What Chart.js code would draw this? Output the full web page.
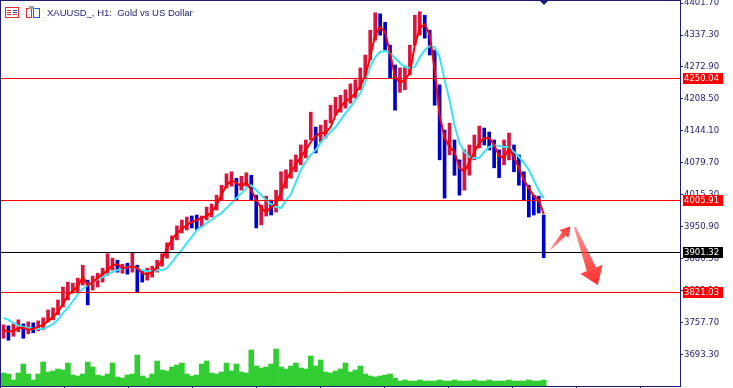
<!DOCTYPE html>
<html lang="en">
<head>
  <meta charset="UTF-8" />
  <title>XAUUSD_, H1: Gold vs US Dollar</title>
  <script src="https://cdn.jsdelivr.net/npm/chart.js@4"></script>
  <style>
    html, body {
      margin: 0;
      padding: 0;
      background: #ffffff;
      overflow: hidden;
    }
    canvas {
      display: block;
    }
  </style>
</head>
<body>
  <canvas id="goldChart" width="733" height="388"></canvas>

  <script>
    const navy = "#1c1c74";
    const upColor = "#dc143c";
    const downColor = "#0000cd";

    // H1 bars, oldest first (price range per hour + close)
    const highs = [3754,3752,3756,3764,3756,3760,3758,3762,3768,3784,
      3788,3804,3830,3840,3838,3848,3874,3844,3852,3858,
      3868,3897,3888,3884,3876,3878,3899,3874,3864,3868,
      3872,3884,3897,3919,3933,3953,3965,3971,3973,3975,
      3973,3991,3997,4015,4035,4058,4062,4049,4053,4060,
      4055,4015,3995,4013,4005,4025,4062,4066,4086,4096,
      4116,4126,4182,4152,4156,4166,4196,4212,4216,4227,
      4239,4247,4271,4297,4347,4382,4380,4363,4317,4277,
      4271,4275,4317,4377,4384,4377,4347,4307,4237,4146,
      4160,4126,4086,4106,4116,4136,4154,4150,4142,4126,
      4106,4126,4140,4116,4096,4062,4035,4015,4013,3975];
    const lows = [3727,3723,3731,3740,3727,3736,3738,3742,3744,3760,
      3764,3774,3790,3804,3818,3820,3834,3794,3824,3830,
      3840,3854,3864,3860,3858,3856,3860,3820,3840,3844,
      3850,3860,3872,3888,3905,3925,3939,3945,3949,3945,
      3951,3965,3971,3985,4005,4029,4033,4005,4025,4033,
      4005,3949,3955,3973,3975,3981,4005,4029,4049,4062,
      4076,4090,4126,4100,4122,4130,4160,4176,4182,4190,
      4200,4210,4227,4251,4287,4327,4337,4307,4251,4186,
      4222,4227,4257,4317,4337,4331,4297,4196,4086,4009,
      4096,4055,4015,4025,4055,4086,4110,4116,4106,4070,
      4050,4076,4086,4062,4035,4005,3971,3975,3979,3889];
    const closes = [3740,3734,3748,3754,3736,3748,3744,3754,3760,3774,
      3780,3794,3820,3824,3830,3838,3850,3814,3838,3848,
      3860,3874,3880,3868,3868,3866,3880,3852,3850,3856,
      3862,3874,3888,3909,3925,3941,3953,3963,3961,3955,
      3965,3979,3985,4005,4025,4045,4049,4025,4041,4051,
      4015,3975,3981,3995,3989,4009,4035,4053,4070,4082,
      4102,4112,4150,4116,4142,4154,4182,4200,4206,4214,
      4227,4237,4257,4283,4331,4367,4357,4327,4267,4231,
      4247,4257,4297,4357,4367,4347,4311,4216,4126,4106,
      4136,4076,4049,4076,4096,4116,4136,4130,4126,4086,
      4076,4106,4106,4086,4049,4025,4005,3995,3985,3905];

    // moving averages as drawn on the chart (red = fast, aqua = slow)
    const maFast = [3744,3740,3742,3748,3748,3744,3746,3750,3754,3762,
      3770,3780,3796,3814,3822,3832,3850,3834,3840,3848,
      3856,3864,3874,3876,3868,3870,3872,3868,3858,3856,
      3860,3870,3884,3909,3925,3939,3947,3955,3961,3965,
      3969,3973,3981,3995,4017,4035,4045,4039,4033,4041,
      4025,4005,3989,3981,3991,3997,4021,4045,4062,4076,
      4092,4106,4122,4134,4140,4140,4152,4176,4192,4204,
      4210,4220,4235,4255,4293,4337,4353,4343,4301,4253,
      4241,4247,4261,4317,4351,4359,4337,4267,4176,4130,
      4112,4102,4070,4062,4082,4102,4120,4130,4130,4116,
      4094,4090,4110,4092,4070,4045,4029,4013,4005,3977];
    const maSlow = [3768,3764,3758,3752,3750,3748,3746,3746,3746,3750,
      3756,3764,3778,3788,3802,3816,3826,3834,3840,3846,
      3850,3856,3860,3864,3868,3870,3872,3868,3864,3862,
      3862,3864,3864,3868,3880,3894,3905,3919,3931,3945,
      3951,3959,3965,3973,3979,3989,3999,4009,4019,4029,
      4035,4025,4015,4005,3997,3991,3989,4005,4017,4041,
      4066,4082,4096,4106,4120,4132,4142,4152,4166,4180,
      4192,4206,4220,4243,4273,4293,4303,4305,4301,4291,
      4281,4273,4271,4273,4293,4307,4315,4313,4293,4247,
      4206,4156,4120,4102,4092,4090,4090,4102,4112,4116,
      4114,4112,4112,4102,4092,4080,4066,4045,4025,4009];

    // tick volume
    const volumes = [13000,12000,6000,13000,22000,12000,6000,12000,24000,14000,
      15000,17000,16000,23000,11000,10000,12000,24000,19000,11000,
      10000,12000,23000,9000,8000,11000,12000,31000,10000,8000,
      12000,25000,16000,15000,19000,21000,23000,12000,10000,11000,
      22000,25000,13000,12000,14000,23000,15000,22000,14000,13000,
      36000,20000,18000,19000,22000,37000,19000,17000,20000,23000,
      18000,17000,30000,20000,26000,14000,13000,15000,17000,23000,
      14000,16000,20000,12000,10000,9000,10000,11000,12000,8000,
      5000,6000,5000,5000,6000,5000,5000,5000,6000,5000,
      5000,6000,5000,5000,5000,6000,5000,5000,6000,5000,
      5000,5000,6000,5000,5000,5000,6000,5000,5000,6000];

    const priceTicks = [4401.7, 4337.3, 4272.9, 4208.5, 4144.1, 4079.7,
      4015.3, 3950.9, 3886.5, 3822.1, 3757.7, 3693.3];

    // horizontal levels with their price tags
    const levelPrices = [4250.04, 4005.91, 3901.32, 3821.03];
    const levelColors = ["#ff0000", "#ff0000", "#000000", "#ff0000"];

    // hand-drawn arrows: [bar index, price] from -> to
    const arrows = [
      { from: [110.4, 3906], to: [114.4, 3952], w0: 1, w1: 5, hw: 12, hl: 10 },
      { from: [115.3, 3950], to: [119.9, 3834], w0: 2, w1: 10, hw: 24, hl: 17 }
    ];

    const slots = 137; // visible bar slots incl. empty space on the right
    const labels = Array.from({ length: slots }, (_, i) => i);

    const barColors = closes.map((c, i) => {
      const open = i > 0 ? closes[i - 1] : c;
      return c >= open ? upColor : downColor;
    });

    function drawArrow(ctx, x0, y0, x1, y1, w0, w1, hw, hl) {
      const len = Math.hypot(x1 - x0, y1 - y0);
      const ux = (x1 - x0) / len, uy = (y1 - y0) / len;
      const nx = -uy, ny = ux;
      const bx = x1 - ux * hl, by = y1 - uy * hl;
      ctx.beginPath();
      ctx.moveTo(x0 + nx * w0 / 2, y0 + ny * w0 / 2);
      ctx.lineTo(bx + nx * w1 / 2, by + ny * w1 / 2);
      ctx.lineTo(bx + nx * hw / 2, by + ny * hw / 2);
      ctx.lineTo(x1, y1);
      ctx.lineTo(bx - nx * hw / 2, by - ny * hw / 2);
      ctx.lineTo(bx - nx * w1 / 2, by - ny * w1 / 2);
      ctx.lineTo(x0 - nx * w0 / 2, y0 - ny * w0 / 2);
      ctx.closePath();
      const g = ctx.createLinearGradient(x0, y0, x1, y1);
      g.addColorStop(0, "rgba(255,80,80,0.6)");
      g.addColorStop(1, "#ff2828");
      ctx.fillStyle = g;
      ctx.fill();
    }

    const overlay = {
      id: "overlay",
      afterDatasetsDraw(chart) {
        const { ctx, chartArea: a, scales: { x, y } } = chart;
        ctx.save();
        levelPrices.forEach((p, i) => {
          const py = Math.round(y.getPixelForValue(p)) + 0.5;
          ctx.strokeStyle = levelColors[i];
          ctx.lineWidth = 1;
          ctx.beginPath();
          ctx.moveTo(a.left, py);
          ctx.lineTo(a.right, py);
          ctx.stroke();
        });
        arrows.forEach(ar => {
          drawArrow(ctx,
            x.getPixelForValue(ar.from[0]), y.getPixelForValue(ar.from[1]),
            x.getPixelForValue(ar.to[0]), y.getPixelForValue(ar.to[1]),
            ar.w0, ar.w1, ar.hw, ar.hl);
        });
        ctx.restore();
      },
      afterDraw(chart) {
        const { ctx, chartArea: a, scales: { y } } = chart;
        ctx.save();

        // frame
        ctx.fillStyle = navy;
        ctx.fillRect(0, 0, a.right + 1, 1);
        ctx.fillRect(0, 0, 1, a.bottom + 2);
        ctx.fillRect(0, a.bottom, a.right + 1, 1);
        for (let tx = 64; tx < a.right; tx += 64) {
          ctx.fillRect(tx, a.bottom, 1, 3);
        }

        // shift marker
        ctx.beginPath();
        ctx.moveTo(539, 0);
        ctx.lineTo(549, 0);
        ctx.lineTo(544, 5);
        ctx.closePath();
        ctx.fill();

        // price tags
        ctx.font = "8.5px 'DejaVu Sans'";
        ctx.textBaseline = "middle";
        ctx.textAlign = "left";
        levelPrices.forEach((p, i) => {
          const py = Math.round(y.getPixelForValue(p));
          ctx.fillStyle = levelColors[i];
          ctx.fillRect(a.right + 3, py - 5, 40, 11);
          ctx.fillStyle = "#ffffff";
          ctx.fillText(p.toFixed(2), a.right + 4, py + 0.5);
        });

        // header icons
        ctx.lineWidth = 1;
        ctx.strokeStyle = "#e03030";
        ctx.strokeRect(5.5, 7.5, 13, 10);
        ctx.fillStyle = "#e03030";
        ctx.fillRect(7, 10, 4, 1); ctx.fillRect(7, 12, 4, 1); ctx.fillRect(7, 14, 4, 1);
        ctx.fillStyle = "#2050d0";
        ctx.fillRect(13, 10, 4, 1); ctx.fillRect(13, 12, 4, 1);
        ctx.fillStyle = "#e03030";
        ctx.fillRect(13, 14, 4, 1);
        ctx.strokeStyle = "#e03030";
        ctx.strokeRect(26.5, 8.5, 5, 9);
        ctx.strokeStyle = "#2060c0";
        ctx.strokeRect(33.5, 8.5, 6, 9);
        ctx.fillStyle = "#a0a0a0";
        ctx.fillRect(29, 6, 5, 3);

        // title
        ctx.fillStyle = navy;
        ctx.font = "9.5px 'Liberation Sans'";
        ctx.textBaseline = "alphabetic";
        ctx.fillText("XAUUSD_, H1:  Gold vs US Dollar", 47, 16);
        ctx.restore();
      }
    };

    const ctx = document.getElementById("goldChart").getContext("2d");
    const chart = new Chart(ctx, {
      data: {
        labels: labels,
        datasets: [
          {
            type: "line",
            data: maFast,
            borderColor: "#ff0000",
            borderWidth: 2,
            pointRadius: 0,
            yAxisID: "y",
            order: 0
          },
          {
            type: "line",
            data: maSlow,
            borderColor: "#38e6f2",
            borderWidth: 2,
            pointRadius: 0,
            yAxisID: "y",
            order: 1
          },
          {
            type: "bar",
            data: lows.map((l, i) => [l, highs[i]]),
            backgroundColor: barColors,
            barThickness: 3,
            grouped: false,
            yAxisID: "y",
            order: 2
          },
          {
            type: "bar",
            data: volumes,
            backgroundColor: "#32cd32",
            barPercentage: 1,
            categoryPercentage: 1,
            grouped: false,
            yAxisID: "vol",
            order: 3
          }
        ]
      },
      options: {
        responsive: false,
        devicePixelRatio: 1,
        animation: false,
        layout: { padding: { left: 1, right: 0, top: 0, bottom: 2 } },
        plugins: {
          legend: { display: false },
          tooltip: { enabled: false }
        },
        scales: {
          x: { display: false, offset: true },
          vol: { display: false, min: 0, max: 386000 },
          y: {
            position: "right",
            min: 3630.9,
            max: 4407.74,
            afterFit(s) {
              s.width = 53;
              s.paddingTop = 0;
              s.paddingBottom = 0;
            },
            afterBuildTicks(s) {
              s.ticks = priceTicks.map(v => ({ value: v }));
            },
            ticks: {
              autoSkip: false,
              color: navy,
              padding: 1,
              font: { family: "DejaVu Sans", size: 8.5 },
              callback: v => Number(v).toFixed(2)
            },
            grid: { drawOnChartArea: false, drawTicks: true, tickLength: 3, color: navy },
            border: { display: true, color: navy }
          }
        }
      },
      plugins: [overlay]
    });
  </script>
</body>
</html>
